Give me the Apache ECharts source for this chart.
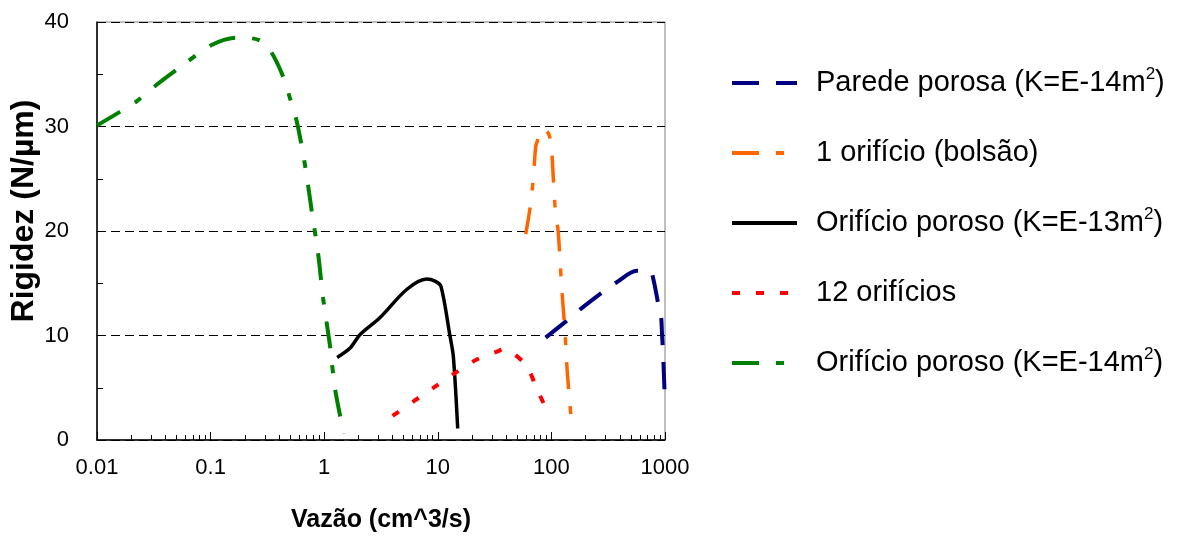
<!DOCTYPE html>
<html>
<head>
<meta charset="utf-8">
<script src="https://cdn.jsdelivr.net/npm/echarts@6/dist/echarts.min.js"></script>
<style>
  html, body { margin: 0; padding: 0; background: #fff; }
  #chart { width: 1181px; height: 538px; }
</style>
</head>
<body>
<div id="chart"></div>
<script>
// ---- data ----
const seriesNames = [
  'Parede porosa (K=E-14m²)',
  '1 orifício (bolsão)',
  'Orifício poroso (K=E-13m²)',
  '12 orifícios',
  'Orifício poroso (K=E-14m²)'
];
const xTickLabels = ['0.01', '0.1', '1', '10', '100', '1000'];
const xMinorTicks = [0.02,0.03,0.04,0.05,0.06,0.07,0.08,0.09,
                     0.2,0.3,0.4,0.5,0.6,0.7,0.8,0.9,
                     2,3,4,5,6,7,8,9,
                     20,30,40,50,60,70,80,90,
                     200,300,400,500,600,700,800,900];

const paredeX = [89, 136, 179, 286, 376, 564, 738, 789, 873, 922, 940, 967, 1000];
const paredeY = [9.8, 11.4, 12.5, 14.2, 15.1, 16.2, 16.2, 15.4, 13.0, 11.9, 10.3, 7.7, 3.3];

const bolsaoX = [59.4, 64.9, 68, 70.3, 72.8, 75.2, 81, 87.8, 96, 101, 102.6, 107.6, 115, 123, 131.8, 138, 150.7];
const bolsaoY = [19.7, 22.2, 24.1, 26.0, 28.1, 28.6, 29.7, 29.7, 29.1, 27.4, 26.2, 22.4, 19.8, 14.7, 10.3, 6.5, 1.5];

const poroso13X = [1.30, 1.69, 2.07, 3.09, 5.32, 7.98, 9.44, 10.66, 12.8, 13.7, 14.97];
const poroso13Y = [7.9, 8.8, 10.1, 11.7, 14.4, 15.4, 15.2, 14.7, 9.95, 8.0, 1.1];

const orif12X = [4.0, 6.5, 9.45, 14.6, 22, 34, 37.8, 44.7, 60.3, 74, 94];
const orif12Y = [2.3, 3.9, 5.1, 6.5, 7.7, 8.5, 8.7, 8.4, 7.1, 5.0, 2.5];

const poroso14X = [0.01, 0.0159, 0.0223, 0.0335, 0.0575, 0.102, 0.17, 0.263, 0.333, 0.423, 0.5, 0.573, 0.678, 0.777, 0.887, 0.98, 1.125, 1.245, 1.49];
const poroso14Y = [30.1, 31.4, 32.4, 34.0, 35.9, 37.8, 38.5, 38.3, 37.3, 35.1, 32.7, 30.5, 26.3, 21.9, 17.7, 13.5, 9.0, 4.9, 0.6];

// ---- build ----
function zip(xs, ys) { return xs.map((x, i) => [x, ys[i]]); }

const chart = echarts.init(document.getElementById('chart'), null, { renderer: 'canvas' });

const FONT = 'Liberation Sans, Arial, sans-serif';

function lineSeries(name, xs, ys, color, width, dash) {
  return {
    name: name,
    type: 'line',
    data: zip(xs, ys),
    showSymbol: false,
    symbol: 'none',
    smooth: 0.3,
    xAxisIndex: 0,
    yAxisIndex: 0,
    lineStyle: { color: color, width: width, type: dash, cap: 'butt' },
    itemStyle: { color: color },
    emphasis: { disabled: true },
    animation: false
  };
}

const option = {
  animation: false,
  backgroundColor: '#ffffff',
  textStyle: { fontFamily: FONT },
  grid: {
    left: 97, top: 22, width: 568, height: 420,
    show: true, borderColor: '#808080', borderWidth: 1, backgroundColor: '#ffffff',
    containLabel: false
  },
  legend: {
    orient: 'vertical',
    left: 730,
    top: 66,
    itemWidth: 65,
    itemHeight: 14,
    itemGap: 36,
    padding: 0,
    selectedMode: false,
    itemStyle: { opacity: 0 },
    lineStyle: { width: 4, cap: 'butt' },
    textStyle: {
      fontFamily: FONT, fontSize: 29, fontWeight: 'normal', color: '#000',
      lineHeight: 34, padding: [0, 0, 0, 14],
      rich: {
        sup: { fontSize: 17, fontWeight: 'normal', lineHeight: 34, verticalAlign: 'top', padding: [0, 0, 14, 0], fontFamily: FONT, color: '#000' }
      }
    },
    formatter: function (name) { return name.replace('²', '{sup|2}'); },
    data: seriesNames
  },
  xAxis: [
    {
      type: 'log', logBase: 10, min: 0.01, max: 1000,
      name: 'Vazão (cm^3/s)', nameLocation: 'middle', nameGap: 68,
      nameTextStyle: { fontFamily: FONT, fontSize: 25, fontWeight: 'bold', color: '#000' },
      axisLine: { show: true, lineStyle: { color: '#000', width: 1.5 } },
      axisTick: { show: true, inside: true, length: 8, lineStyle: { color: '#000', width: 1 } },
      axisLabel: {
        fontFamily: FONT, fontSize: 22, color: '#000', margin: 17,
        formatter: function (v) {
          const idx = Math.round(Math.log10(v)) + 2;
          return xTickLabels[idx] !== undefined ? xTickLabels[idx] : '';
        }
      },
      splitLine: { show: false },
      minorTick: { show: false }
    },
    {
      type: 'log', logBase: 10, min: 0.01, max: 1000,
      position: 'bottom',
      axisLine: { show: false },
      axisTick: { show: true, inside: true, length: 5, lineStyle: { color: '#000', width: 1 }, customValues: xMinorTicks },
      axisLabel: { show: false },
      splitLine: { show: false }
    }
  ],
  yAxis: {
    type: 'value', min: 0, max: 40, interval: 10,
    name: 'Rigidez (N/µm)', nameLocation: 'middle', nameGap: 54,
    nameTextStyle: { fontFamily: FONT, fontSize: 32, fontWeight: 'bold', color: '#000', padding: [0, 0, 0, 40] },
    axisLine: { show: true, lineStyle: { color: '#000', width: 1.5 } },
    axisTick: { show: true, inside: true, length: 6, lineStyle: { color: '#000' } },
    minorTick: { show: true, splitNumber: 2, length: 6, lineStyle: { color: '#000' } },
    axisLabel: { fontFamily: FONT, fontSize: 22, color: '#000', margin: 28 },
    splitLine: { show: true, lineStyle: { color: '#000', width: 1, type: [9, 5] } }
  },
  series: [
    lineSeries(seriesNames[0], paredeX, paredeY, '#000080', 4, [27, 17]),
    lineSeries(seriesNames[1], bolsaoX, bolsaoY, '#ff6600', 3.5, [27, 17, 8, 17]),
    lineSeries(seriesNames[2], poroso13X, poroso13Y, '#000000', 3.5, 'solid'),
    lineSeries(seriesNames[3], orif12X, orif12Y, '#ff0000', 4, [8, 16]),
    lineSeries(seriesNames[4], poroso14X, poroso14Y, '#008000', 4, [27, 17, 8, 17])
  ]
};

chart.setOption(option);
</script>
</body>
</html>
